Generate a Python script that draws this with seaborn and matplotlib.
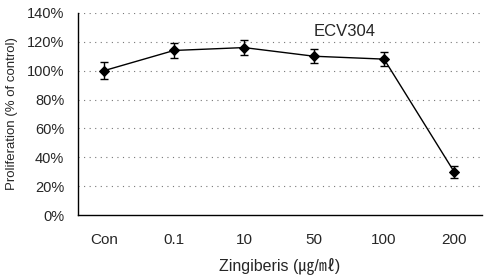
import seaborn as sns
import matplotlib.pyplot as plt
import pandas as pd

# Data
doses = ['Con', '0.1', '10', '50', '100', '200']
proliferation = [100, 114, 116, 110, 108, 30]
sd = [6, 5, 5, 5, 5, 4]

sns.set_style('white')
plt.rcParams['font.family'] = ['Liberation Sans', 'Noto Sans CJK KR', 'DejaVu Sans']

df = pd.DataFrame({'dose': doses, 'value': proliferation})

fig = plt.figure(figsize=(4.85, 2.75), dpi=100)
ax = fig.add_axes([0.161, 0.218, 0.833, 0.735])

sns.lineplot(data=df, x='dose', y='value', color='black', linewidth=1.0,
             marker='D', markersize=5, markeredgecolor='black', ax=ax)
ax.errorbar(range(len(doses)), proliferation, yerr=sd, fmt='none',
            ecolor='black', elinewidth=1.0, capsize=3, capthick=1.0)

ax.set_xlim(-0.37, 5.4)
ax.set_ylim(0, 140)
ax.set_yticks(range(0, 141, 20))
ax.set_yticklabels([f'{v}%' for v in range(0, 141, 20)], fontsize=10.5)
ax.set_xticks(range(len(doses)))
ax.set_xticklabels(doses, fontsize=11)
ax.set_xticks([i + 0.5 for i in range(len(doses) - 1)], minor=True)
ax.tick_params(axis='x', which='major', length=0, pad=13)
ax.tick_params(axis='x', which='minor', length=3, direction='in', color='black')
ax.tick_params(axis='y', length=0, pad=10)

# dotted horizontal grid lines
for v in range(20, 141, 20):
    ax.axhline(v, color='#777777', linestyle=(0, (1, 4)), linewidth=0.8, zorder=0)

for side in ['top', 'right']:
    ax.spines[side].set_visible(False)
for side in ['left', 'bottom']:
    ax.spines[side].set_color('black')
    ax.spines[side].set_linewidth(1.0)

ax.text(3.43, 127, 'ECV304', fontsize=12, ha='center', va='center')

ax.set_xlabel('Zingiberis (㎍/㎖)', fontsize=11.5, labelpad=7)
ax.set_ylabel('Proliferation (% of control)', fontsize=9.5, labelpad=6)

plt.savefig('out.png', dpi=100)
plt.close()
